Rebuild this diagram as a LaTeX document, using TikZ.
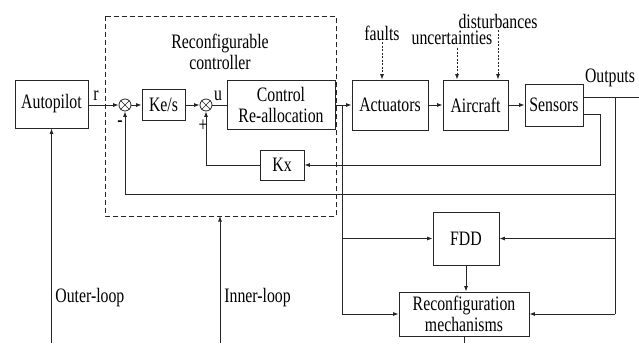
\documentclass[tikz,border=0pt]{standalone}
\usepackage{fontspec}
\setmainfont{Liberation Serif}[FakeStretch=0.77]
\usetikzlibrary{arrows.meta,calc}
\begin{document}
\begin{tikzpicture}[x=1pt,y=-1pt,
  line width=0.8pt, draw=black!85,
  font=\fontsize{20.5}{21}\selectfont,
  blk/.style={draw, rectangle, inner sep=0pt, align=center},
  sumjn/.style={draw, circle, minimum size=12pt, inner sep=0pt},
  txt/.style={inner sep=0pt, align=center},
  arr/.style={-{Latex[length=5.5pt,width=4pt]}},
  dotarr/.style={arr, dash pattern=on 2pt off 1.5pt}]
\useasboundingbox (0,0) rectangle (639,343);

% controller frame
\draw[dash pattern=on 5pt off 3pt] (105,16) rectangle (336,216);
\coordinate (frameS) at (220,216);
\node[txt] (ctrltitle) at (220,52) {Reconfigurable\\controller};

% blocks
\node[blk, minimum width=73pt, minimum height=48pt] (auto) at (51.5,104) {Autopilot};
\node[blk, minimum width=43pt, minimum height=31pt] (kes) at (163.5,104.5) {Ke/s};
\node[blk, minimum width=108pt, minimum height=49pt] (ctrl) at (281,104.5) {Control\\Re-allocation};
\node[blk, minimum width=44pt, minimum height=30pt] (kx) at (282,165) {Kx};
\node[blk, minimum width=76pt, minimum height=50pt] (act) at (390,105) {Actuators};
\node[blk, minimum width=65pt, minimum height=50pt] (air) at (475.5,105) {Aircraft};
\node[blk, minimum width=58pt, minimum height=42pt] (sens) at (554,105) {Sensors};
\node[blk, minimum width=66pt, minimum height=53pt] (fdd) at (466,238.5) {FDD};
\node[blk, minimum width=130pt, minimum height=44pt] (rm) at (464,314) {Reconfiguration\\mechanisms};

% summing junctions
\node[sumjn] (s1) at (125,105) {};
\node[sumjn] (s2) at (206,105) {};
\foreach \s in {s1,s2}{
  \draw[line width=0.6pt] (\s.north west) -- (\s.south east);
  \draw[line width=0.6pt] (\s.north east) -- (\s.south west);
}

% labels
\node[txt] (lr) at (96,96) {r};
\node[txt] (lu) at (218,96) {u};
\node[txt] (lminus) at (120,124) {\textbf{-}};
\node[txt] (lplus) at (203,126) {+};
\node[txt] (lfaults) at (382,33) {faults};
\node[txt] (lunc) at (452,38) {uncertainties};
\node[txt] (ldist) at (498,21) {disturbances};
\node[txt] (lout) at (610,78) {Outputs};
\node[txt, anchor=west] (louter) at (55,298) {Outer-loop};
\node[txt, anchor=west] (linner) at (224,298) {Inner-loop};

% forward path
\draw[arr] (auto.east |- s1) -- (s1.west);
\draw[arr] (s1.east) -- (kes.west |- s1);
\draw[arr] (kes.east |- s2) -- (s2.west);
\draw (s2.east) -- (ctrl.west |- s2);
\draw[arr] (ctrl.east |- act) -- (act.west);
\draw[arr] (act.east) -- (air.west);
\draw[arr] (air.east) -- (sens.west);

% disturbance inputs
\draw[dotarr] (382,42) -- (act.north -| 382,0);
\draw[dotarr] (457,48) -- (air.north -| 457,0);
\draw[dotarr] (498,30) -- (air.north -| 498,0);

% outputs and measurement bus
\coordinate (oA) at (583,97);
\coordinate (oEnd) at (639,97);
\coordinate (bus) at (615,97);
\draw (oA) -- (oEnd);
\draw (bus) -- (615,314);

% inner feedback through Kx
\coordinate (sA) at (583,114);
\draw[arr] (sA) -- (600,114) -- (600,165) -- (kx.east);
\draw[arr] (kx.west) -- (206,165) -- (s2.south);

% outer feedback to first junction
\draw[arr] (615,194) -- (125,194) -- (s1.south);

% fault detection and reconfiguration
\coordinate (tap) at (342,105);
\draw (tap) -- (342,314);
\draw[arr] (342,238.5) -- (fdd.west);
\draw[arr] (342,314) -- (rm.west);
\draw[arr] (615,238.5) -- (fdd.east);
\draw[arr] (615,314) -- (rm.east);
\draw[arr] (fdd.south) -- (rm.north -| fdd.south);
\draw (rm.south) -- (464,343);

% loop commands
\draw[arr] (51.5,343) -- (auto.south);
\draw[arr] (220,343) -- (frameS);
\end{tikzpicture}
\end{document}
